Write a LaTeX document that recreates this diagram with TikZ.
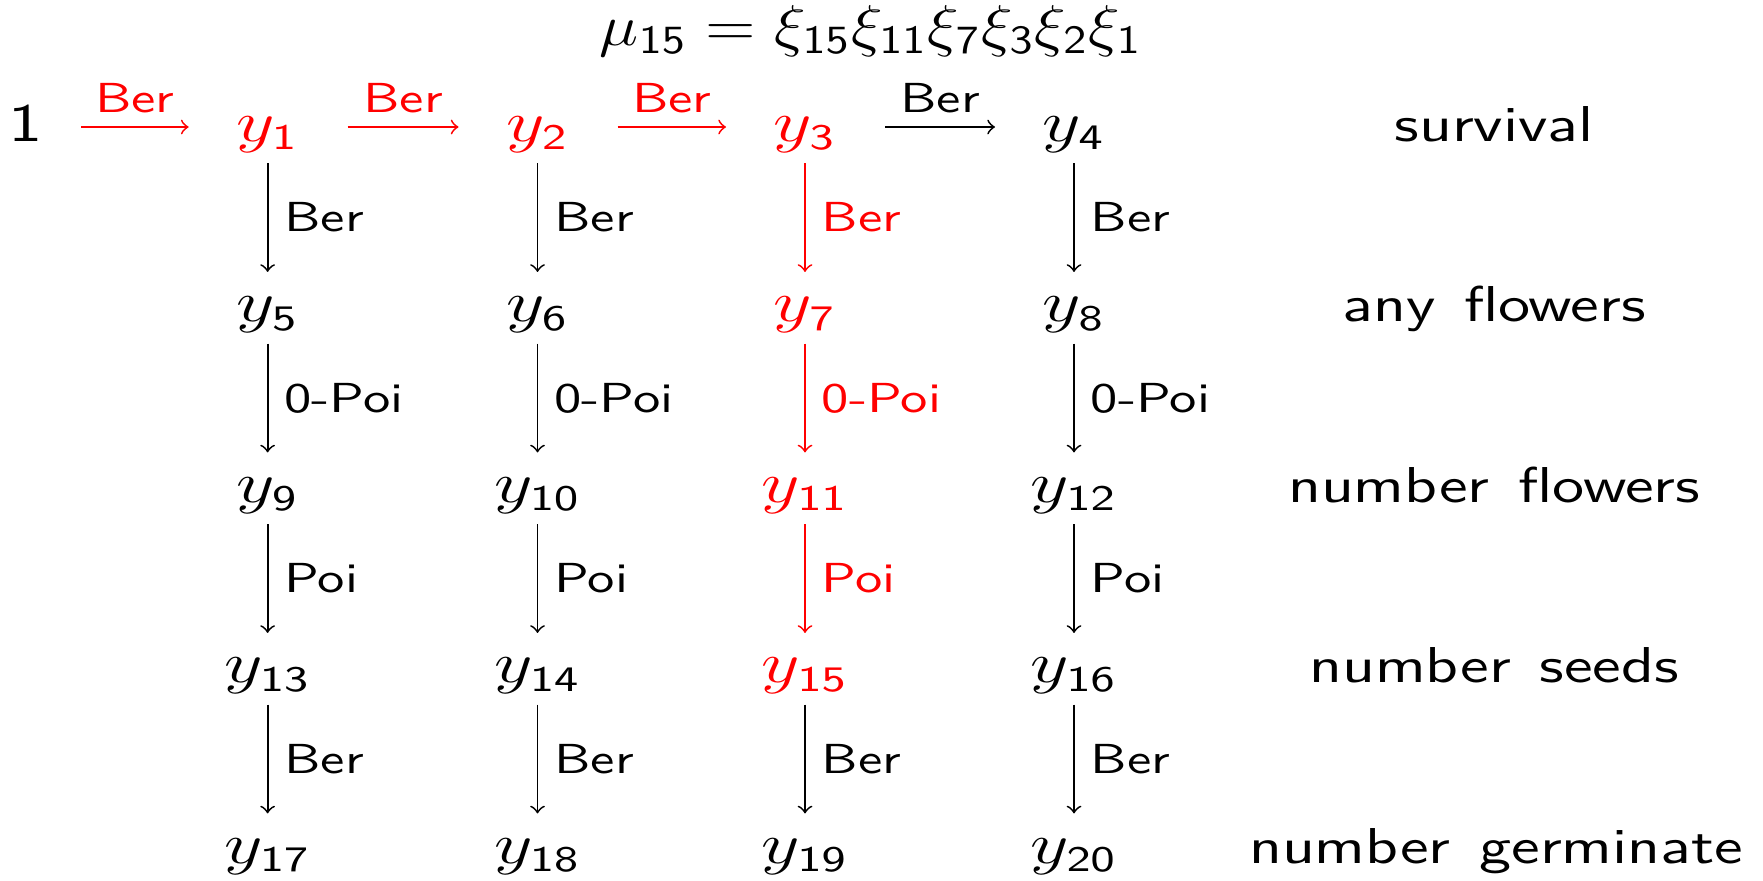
\documentclass[tikz,border=0pt]{standalone}
\usepackage{graphicx}
\DeclareSymbolFont{operators}{OT1}{cmss}{m}{n}
\DeclareMathSizes{13.4}{13.4}{10.4}{7}
\newcommand{\hstretch}[1]{\scalebox{1.3}[1]{#1}}
\newcommand{\tstretch}[1]{\scalebox{1.15}[1]{#1}}
\newcommand{\rowtext}[1]{\scalebox{1.3}[1]{\spaceskip=0.44em\relax #1}}
\begin{document}
\begin{tikzpicture}[x=0.25pt,y=-0.25pt,
  every node/.style={inner sep=0pt},
  ynode/.style={anchor=base,font=\fontsize{13.5}{16}\selectfont},
  titlenode/.style={anchor=base,font=\fontsize{13.4}{16}\selectfont},
  rowlab/.style={anchor=base,font=\fontsize{12.6}{15}\selectfont\sffamily},
  startnode/.style={anchor=base,font=\fontsize{13.5}{16}\selectfont\sffamily},
  arr/.style={->,line width=0.45pt},
  vlab/.style={anchor=west,xshift=4pt,font=\fontsize{10.5}{12.5}\selectfont\sffamily},
  hlab/.style={anchor=base,yshift=3.75pt,font=\fontsize{10.5}{12.5}\selectfont\sffamily},
  hot/.style={red}]
\useasboundingbox (0,0) rectangle (1763,880);
% title
\node[titlenode] (title) at (871,45) {\tstretch{$\mu_{15}=\xi_{15}\xi_{11}\xi_{7}\xi_{3}\xi_{2}\xi_{1}$}};
% start
\node[startnode] (one) at (26,141) {\hstretch{1}};
% nodes
\node[ynode,hot] (y1) at (267.6,141) {\hstretch{$y_{1}$}};
\node[ynode,hot] (y2) at (537.5,141) {\hstretch{$y_{2}$}};
\node[ynode,hot] (y3) at (805,141) {\hstretch{$y_{3}$}};
\node[ynode] (y4) at (1074,141) {\hstretch{$y_{4}$}};
\node[ynode] (y5) at (267.6,321.5) {\hstretch{$y_{5}$}};
\node[ynode] (y6) at (537.5,321.5) {\hstretch{$y_{6}$}};
\node[ynode,hot] (y7) at (805,321.5) {\hstretch{$y_{7}$}};
\node[ynode] (y8) at (1074,321.5) {\hstretch{$y_{8}$}};
\node[ynode] (y9) at (267.6,502) {\hstretch{$y_{9}$}};
\node[ynode] (y10) at (537.5,502) {\hstretch{$y_{10}$}};
\node[ynode,hot] (y11) at (805,502) {\hstretch{$y_{11}$}};
\node[ynode] (y12) at (1074,502) {\hstretch{$y_{12}$}};
\node[ynode] (y13) at (267.6,682.5) {\hstretch{$y_{13}$}};
\node[ynode] (y14) at (537.5,682.5) {\hstretch{$y_{14}$}};
\node[ynode,hot] (y15) at (805,682.5) {\hstretch{$y_{15}$}};
\node[ynode] (y16) at (1074,682.5) {\hstretch{$y_{16}$}};
\node[ynode] (y17) at (267.6,863) {\hstretch{$y_{17}$}};
\node[ynode] (y18) at (537.5,863) {\hstretch{$y_{18}$}};
\node[ynode] (y19) at (805,863) {\hstretch{$y_{19}$}};
\node[ynode] (y20) at (1074,863) {\hstretch{$y_{20}$}};
% row labels
\node[rowlab] (l1) at (1494,141) {\rowtext{survival}};
\node[rowlab] (l2) at (1494,321.5) {\rowtext{any flowers}};
\node[rowlab] (l3) at (1494,502) {\rowtext{number flowers}};
\node[rowlab] (l4) at (1494,682.5) {\rowtext{number seeds}};
\node[rowlab] (l5) at (1496,863) {\rowtext{number germinate}};
% horizontal arrows
\draw[arr,hot] ([shift={(55,-14)}]one.base) -- node[hlab]{\hstretch{Ber}} ([shift={(-79,-14)}]y1.base);
\draw[arr,hot] ([shift={(80,-14)}]y1.base) -- node[hlab]{\hstretch{Ber}} ([shift={(-79,-14)}]y2.base);
\draw[arr,hot] ([shift={(80,-14)}]y2.base) -- node[hlab]{\hstretch{Ber}} ([shift={(-79,-14)}]y3.base);
\draw[arr] ([shift={(80,-14)}]y3.base) -- node[hlab]{\hstretch{Ber}} ([shift={(-79,-14)}]y4.base);
% vertical arrows
\draw[arr] ([yshift=-5.5pt]y1.base) -- node[vlab]{\hstretch{Ber}} ([yshift=12.4pt]y5.base);
\draw[arr] ([yshift=-5.5pt]y2.base) -- node[vlab]{\hstretch{Ber}} ([yshift=12.4pt]y6.base);
\draw[arr,hot] ([yshift=-5.5pt]y3.base) -- node[vlab]{\hstretch{Ber}} ([yshift=12.4pt]y7.base);
\draw[arr] ([yshift=-5.5pt]y4.base) -- node[vlab]{\hstretch{Ber}} ([yshift=12.4pt]y8.base);
\draw[arr] ([yshift=-5.5pt]y5.base) -- node[vlab]{\hstretch{0-Poi}} ([yshift=12.4pt]y9.base);
\draw[arr] ([yshift=-5.5pt]y6.base) -- node[vlab]{\hstretch{0-Poi}} ([yshift=12.4pt]y10.base);
\draw[arr,hot] ([yshift=-5.5pt]y7.base) -- node[vlab]{\hstretch{0-Poi}} ([yshift=12.4pt]y11.base);
\draw[arr] ([yshift=-5.5pt]y8.base) -- node[vlab]{\hstretch{0-Poi}} ([yshift=12.4pt]y12.base);
\draw[arr] ([yshift=-5.5pt]y9.base) -- node[vlab]{\hstretch{Poi}} ([yshift=12.4pt]y13.base);
\draw[arr] ([yshift=-5.5pt]y10.base) -- node[vlab]{\hstretch{Poi}} ([yshift=12.4pt]y14.base);
\draw[arr,hot] ([yshift=-5.5pt]y11.base) -- node[vlab]{\hstretch{Poi}} ([yshift=12.4pt]y15.base);
\draw[arr] ([yshift=-5.5pt]y12.base) -- node[vlab]{\hstretch{Poi}} ([yshift=12.4pt]y16.base);
\draw[arr] ([yshift=-5.5pt]y13.base) -- node[vlab]{\hstretch{Ber}} ([yshift=12.4pt]y17.base);
\draw[arr] ([yshift=-5.5pt]y14.base) -- node[vlab]{\hstretch{Ber}} ([yshift=12.4pt]y18.base);
\draw[arr] ([yshift=-5.5pt]y15.base) -- node[vlab]{\hstretch{Ber}} ([yshift=12.4pt]y19.base);
\draw[arr] ([yshift=-5.5pt]y16.base) -- node[vlab]{\hstretch{Ber}} ([yshift=12.4pt]y20.base);
\end{tikzpicture}
\end{document}
